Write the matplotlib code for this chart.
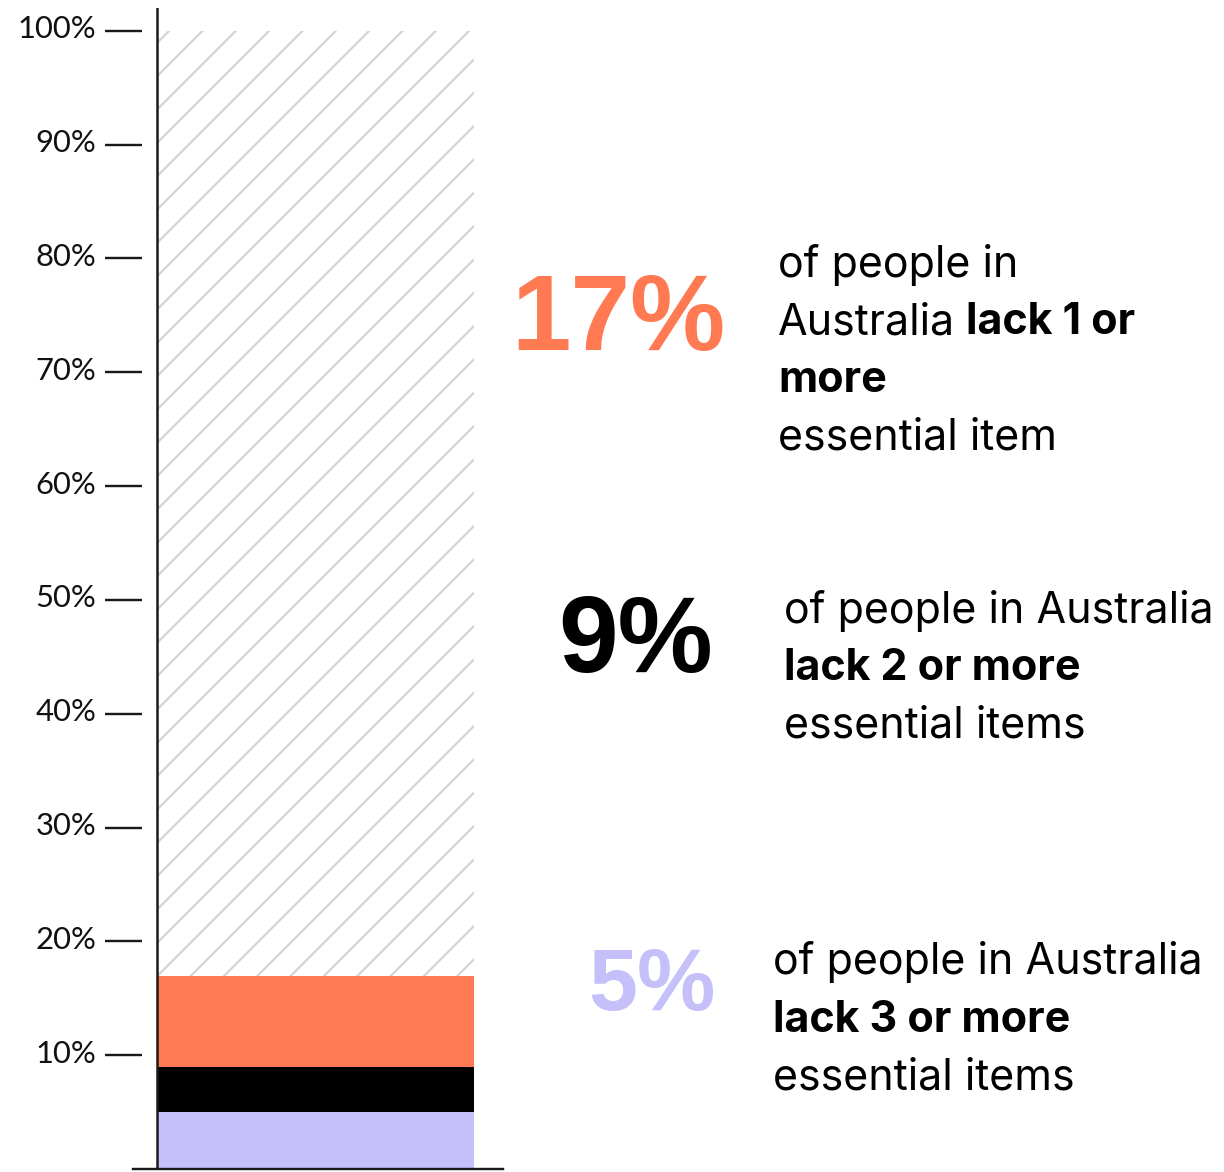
import matplotlib
matplotlib.use("Agg")
import matplotlib.pyplot as plt
from matplotlib.transforms import ScaledTranslation

# ---- data -------------------------------------------------------------
lack_1_plus = 17   # % lacking 1 or more essential items
lack_2_plus = 9    # % lacking 2 or more
lack_3_plus = 5    # % lacking 3 or more
tick_values = [10, 20, 30, 40, 50, 60, 70, 80, 90, 100]
tick_labels = [f"{v}%" for v in tick_values]

headlines = ["17%", "9%", "5%"]
blurbs = [
    [[("of people in", False)],
     [("Australia", False), ("lack 1 or", True)],
     [("more", True)],
     [("essential item", False)]],
    [[("of people in Australia", False)],
     [("lack 2 or more", True)],
     [("essential items", False)]],
    [[("of people in Australia", False)],
     [("lack 3 or more", True)],
     [("essential items", False)]],
]

# ---- style ------------------------------------------------------------
ORANGE = "#FF7A52"
LAVENDER = "#C5BFFA"
BLACK = "#000000"
HATCH_GREY = "#d2d2d2"

W, H, DPI = 1224, 1172, 200
plt.rcParams["hatch.linewidth"] = 0.75
plt.rcParams["hatch.color"] = HATCH_GREY

fig = plt.figure(figsize=(W / DPI, H / DPI), dpi=DPI)


def pt(px):
    return px * 72.0 / DPI


def fpos(x, y):
    return x / W, 1 - y / H


# axes box in pixel terms
ax_left, ax_right, ax_top, ax_bottom = 133, 503, 8, 1169
ax = fig.add_axes([ax_left / W, (H - ax_bottom) / H,
                   (ax_right - ax_left) / W, (ax_bottom - ax_top) / H])

bar_l, bar_r = 157, 474
bw = bar_r - bar_l
ax.set_xlim(-(bar_l - ax_left) / bw, 1 + (ax_right - bar_r) / bw)
ax.set_ylim(0, 102)

# stacked bar
ax.bar(0, lack_3_plus, bottom=0, width=1, align="edge", color=LAVENDER, linewidth=0)
ax.bar(0, lack_2_plus - lack_3_plus, bottom=lack_3_plus, width=1, align="edge",
       color=BLACK, linewidth=0)
ax.bar(0, lack_1_plus - lack_2_plus, bottom=lack_2_plus, width=1, align="edge",
       color=ORANGE, linewidth=0)
ax.bar(0, 100 - lack_1_plus, bottom=lack_1_plus, width=1, align="edge",
       facecolor="none", edgecolor=HATCH_GREY, hatch="//", linewidth=0)

# axis lines
ax.axvline(0, color="#1a1a1a", linewidth=pt(2.5), zorder=5)
for s in ["top", "right"]:
    ax.spines[s].set_visible(False)
ax.spines["bottom"].set_linewidth(pt(2.4))
ax.spines["bottom"].set_color("#1a1a1a")
ax.spines["left"].set_position(("data", -(bar_l - 142) / bw))
ax.spines["left"].set_visible(False)
ax.set_xticks([])
ax.set_yticks(tick_values)
ax.set_yticklabels(tick_labels, fontfamily="Lato", fontweight="normal",
                   fontsize=pt(31), color="#111111")
ax.tick_params(axis="y", direction="out", length=pt(37), width=pt(2.4),
               color="#1a1a1a", pad=pt(9))
# labels sit a little above their tick marks
lift = ScaledTranslation(0, 4 / DPI, fig.dpi_scale_trans)
for lab in ax.get_yticklabels():
    lab.set_transform(lab.get_transform() + lift)

# headline percentages
head_colors = [ORANGE, BLACK, LAVENDER]
head_pos = [(725, 350), (713, 672), (716, 1010)]
head_size = [pt(107), pt(107), pt(88)]
for txt, c, (x, y), s in zip(headlines, head_colors, head_pos, head_size):
    fig.text(*fpos(x, y), txt, color=c, fontsize=s, fontweight="bold",
             fontfamily="Liberation Sans", ha="right", va="baseline")

# descriptive text blocks
block_pos = [(778, 277), (784, 623), (773, 974)]
line_step = 57.5
body_size = pt(43)
renderer = fig.canvas.get_renderer()
for block, (bx, by) in zip(blurbs, block_pos):
    for i, line in enumerate(block):
        x = bx
        y = by + i * line_step
        for run, bold in line:
            t = fig.text(*fpos(x, y), run, fontsize=body_size, fontfamily="Inter",
                         fontweight="bold" if bold else "normal", color="#000000",
                         ha="left", va="baseline")
            ext = t.get_window_extent(renderer)
            x = ext.x1 + 11

fig.savefig("out.png", dpi=DPI)
